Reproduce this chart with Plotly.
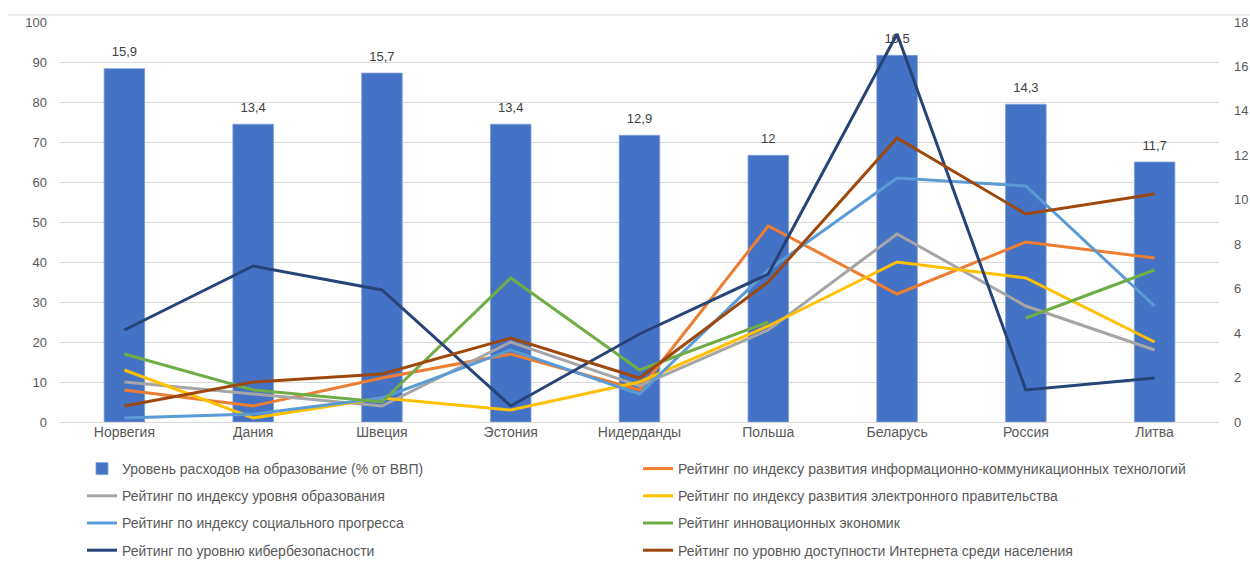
import plotly.graph_objects as go

# Countries along the category axis
countries = ["Норвегия", "Дания", "Швеция", "Эстония", "Нидерданды",
             "Польша", "Беларусь", "Россия", "Литва"]

# Education spending, % of GDP (right axis)
edu_spending = [15.9, 13.4, 15.7, 13.4, 12.9, 12.0, 16.5, 14.3, 11.7]

# Country rankings (left axis)
ict_rank = [8, 4, 11, 17, 8, 49, 32, 45, 41]
education_rank = [10, 7, 4, 20, 9, 23, 47, 29, 18]
egov_rank = [13, 1, 6, 3, 10, 24, 40, 36, 20]
social_rank = [1, 2, 6, 18, 7, 38, 61, 59, 29]
innovation_rank = [17, 8, 5, 36, 13, 25, None, 26, 38]
cyber_rank = [23, 39, 33, 4, 22, 37, 97, 8, 11]
internet_rank = [4, 10, 12, 21, 11, 35, 71, 52, 57]

FONT = "Liberation Sans"
TXT = "#595959"

fig = go.Figure()

fig.add_trace(go.Bar(
    x=countries, y=edu_spending, name="Уровень расходов на образование (% от ВВП)",
    marker=dict(color="#4472C4", line=dict(color="#7F9FD8", width=0.8)),
    width=0.315, yaxis="y", legend="legend", legendgroup="g1",
    hoverinfo="x+y",
))

# Value labels above the bars (comma as decimal separator)
bar_labels = [f"{v:g}".replace(".", ",") for v in edu_spending]
fig.add_trace(go.Scatter(
    x=countries, y=edu_spending, mode="markers+text", text=bar_labels,
    textposition="top center", marker=dict(size=13, opacity=0),
    textfont=dict(family=FONT, size=13, color="#404040"),
    cliponaxis=False, showlegend=False, hoverinfo="skip", yaxis="y",
))

lines = [
    ("Рейтинг по индексу развития информационно-коммуникационных технологий", ict_rank, "#ED7D31", "legend2"),
    ("Рейтинг по индексу уровня образования", education_rank, "#A5A5A5", "legend"),
    ("Рейтинг по индексу развития электронного правительства", egov_rank, "#FFC000", "legend2"),
    ("Рейтинг по индексу социального прогресса", social_rank, "#5B9BD5", "legend"),
    ("Рейтинг инновационных экономик", innovation_rank, "#70AD47", "legend2"),
    ("Рейтинг по уровню кибербезопасности", cyber_rank, "#264478", "legend"),
    ("Рейтинг по уровню доступности Интернета среди населения", internet_rank, "#9E480E", "legend2"),
]
for i, (name, vals, color, leg) in enumerate(lines):
    fig.add_trace(go.Scatter(
        x=countries, y=vals, name=name, mode="lines",
        line=dict(color=color, width=3), connectgaps=False,
        yaxis="y2", legend=leg, legendgroup=f"l{i}",
    ))

legend_common = dict(
    orientation="v", xref="container", yref="container", yanchor="top",
    xanchor="left",
    font=dict(family=FONT, size=14, color=TXT), itemwidth=30,
    tracegroupgap=6, bgcolor="rgba(0,0,0,0)", itemclick=False, itemdoubleclick=False,
)

fig.update_layout(
    width=1250, height=562,
    margin=dict(l=60, r=31, t=22, b=140, autoexpand=False),
    paper_bgcolor="white", plot_bgcolor="white",
    font=dict(family=FONT, size=13, color=TXT),
    showlegend=True,
    bargap=0.5,
    xaxis=dict(showgrid=False, ticks="", showline=False,
               range=[-0.5, len(countries) - 0.5], autorange=False,
               tickfont=dict(family=FONT, size=14, color=TXT)),
    yaxis=dict(side="right", range=[0, 18], dtick=2, showgrid=False,
               zeroline=False, showline=False, ticks="", ticklabelstandoff=14,
               tickfont=dict(family=FONT, size=13, color=TXT)),
    yaxis2=dict(side="left", overlaying="y", range=[0, 100], dtick=10,
                showgrid=True, gridcolor="#D9D9D9", gridwidth=1,
                zeroline=True, zerolinecolor="#D9D9D9", zerolinewidth=1,
                showline=False, ticks="", ticklabelstandoff=12,
                tickfont=dict(family=FONT, size=13, color=TXT)),
    legend=dict(x=82 / 1250, y=1 - 453 / 562, **legend_common),
    legend2=dict(x=638 / 1250, y=1 - 453 / 562, **legend_common),
    shapes=[dict(type="line", xref="paper", yref="paper",
                 x0=-0.045, x1=1.03, y0=1 + 7 / 400, y1=1 + 7 / 400,
                 line=dict(color="#D9D9D9", width=1))],
)

fig.write_html("out.html")
